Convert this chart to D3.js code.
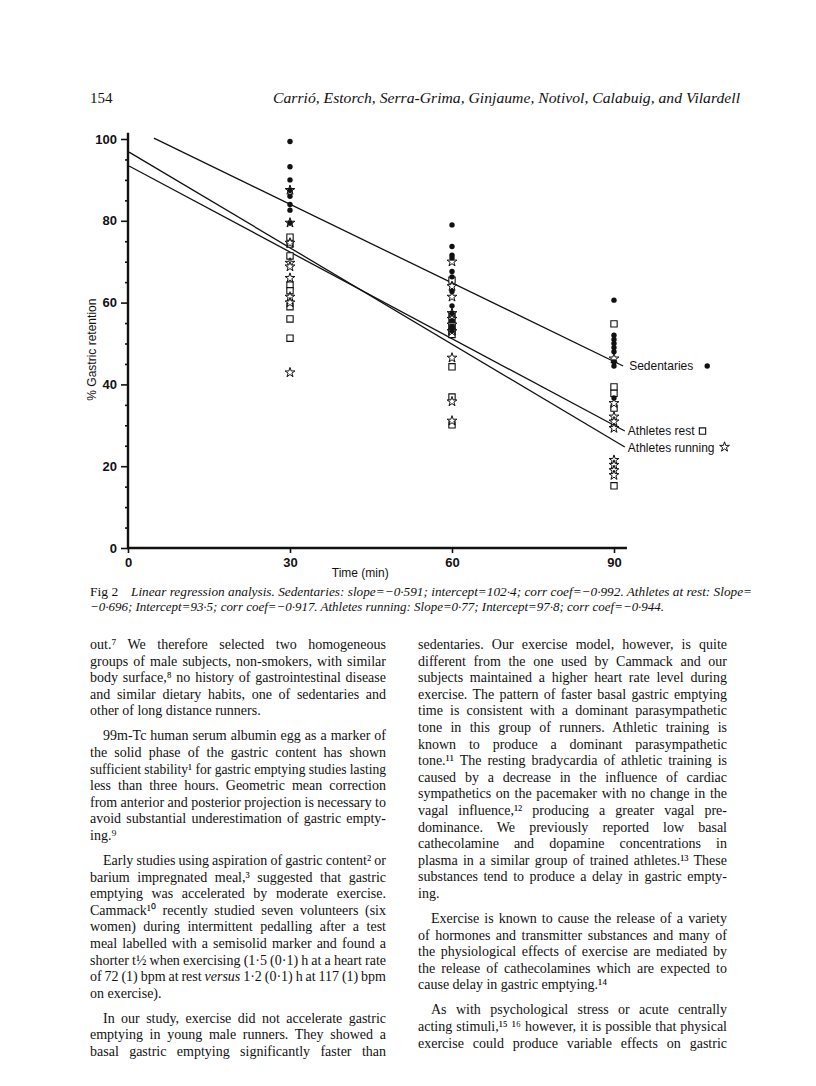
<!DOCTYPE html>
<html>
<head>
<meta charset="utf-8">
<script src="https://cdn.jsdelivr.net/npm/d3@7"></script>
<style>
  body { margin: 0; background: #fff; }
  text { fill: #111; }
</style>
</head>
<body>
<div id="page"></div>
<script>
//page size
var pageWidth = 816;
var pageHeight = 1086;

//time points and axis ticks
var xTicks = [0, 30, 60, 90];
var yTicks = [0, 20, 40, 60, 80, 100];
var yMinorTicks = [5, 10, 15, 25, 30, 35, 45, 50, 55, 65, 70, 75, 85, 90, 95];

//% gastric retention, per group and time
var sedentaries30 = [99.4, 93.2, 90, 87.5, 86, 84, 82.6, 79.5];
var sedentaries60 = [79, 73.7, 71.6, 70.9, 67.6, 66.3, 62.7, 59.2, 57.4, 55.6, 54.2, 53.2];
var sedentaries90 = [60.6, 52, 51, 50, 49, 48, 45.5, 44.5, 36.7];
var rest30 = [76, 74.3, 71.4, 64.3, 62.9, 59, 56, 51.3];
var rest60 = [65.5, 56.8, 55, 54, 53, 52.2, 44.3, 36.9, 30.1];
var rest90 = [54.8, 39.4, 37.8, 34.2, 15.2];
var running30 = [87.5, 79.5, 74.6, 69.7, 68.8, 66, 61.4, 60, 42.9];
var running60 = [70, 64, 61.4, 57.4, 56, 54.6, 53, 46.5, 35.8, 31.1];
var running90 = [46.3, 35.4, 32.1, 30.9, 29.3, 21.5, 20.3, 19, 17.8];

//regression lines as drawn: [time, %] at both ends
var sedentariesLine = [[4.8, 100.2], [91.7, 44.5]];
var restLine = [[0.2, 93.4], [92, 28.6]];
var runningLine = [[0.2, 96.8], [92, 24.7]];

var lineLabels = ["Sedentaries", "Athletes rest", "Athletes running"];

//text of the page
var headerPage = "154";
var headerAuthors = "Carrió, Estorch, Serra-Grima, Ginjaume, Notivol, Calabuig, and Vilardell";
var captionLines = [
  "Linear regression analysis. Sedentaries: slope=\u22120·591; intercept=102·4; corr coef=\u22120·992. Athletes at rest: Slope=",
  "\u22120·696; Intercept=93·5; corr coef=\u22120·917. Athletes running: Slope=0·77; Intercept=97·8; corr coef=\u22120·944."
];
var leftColumn = [
  ["out.⁷ We therefore selected two homogeneous",
   "groups of male subjects, non-smokers, with similar",
   "body surface,⁸ no history of gastrointestinal disease",
   "and similar dietary habits, one of sedentaries and",
   "other of long distance runners."],
  ["99m-Tc human serum albumin egg as a marker of",
   "the solid phase of the gastric content has shown",
   "sufficient stability¹ for gastric emptying studies lasting",
   "less than three hours. Geometric mean correction",
   "from anterior and posterior projection is necessary to",
   "avoid substantial underestimation of gastric empty-",
   "ing.⁹"],
  ["Early studies using aspiration of gastric content² or",
   "barium impregnated meal,³ suggested that gastric",
   "emptying was accelerated by moderate exercise.",
   "Cammack¹⁰ recently studied seven volunteers (six",
   "women) during intermittent pedalling after a test",
   "meal labelled with a semisolid marker and found a",
   "shorter t½ when exercising (1·5 (0·1) h at a heart rate",
   "of 72 (1) bpm at rest _versus_ 1·2 (0·1) h at 117 (1) bpm",
   "on exercise)."],
  ["In our study, exercise did not accelerate gastric",
   "emptying in young male runners. They showed a",
   "basal gastric emptying significantly faster than"]
];
var rightColumn = [
  ["sedentaries. Our exercise model, however, is quite",
   "different from the one used by Cammack and our",
   "subjects maintained a higher heart rate level during",
   "exercise. The pattern of faster basal gastric emptying",
   "time is consistent with a dominant parasympathetic",
   "tone in this group of runners. Athletic training is",
   "known to produce a dominant parasympathetic",
   "tone.¹¹ The resting bradycardia of athletic training is",
   "caused by a decrease in the influence of cardiac",
   "sympathetics on the pacemaker with no change in the",
   "vagal influence,¹² producing a greater vagal pre-",
   "dominance. We previously reported low basal",
   "cathecolamine and dopamine concentrations in",
   "plasma in a similar group of trained athletes.¹³ These",
   "substances tend to produce a delay in gastric empty-",
   "ing."],
  ["Exercise is known to cause the release of a variety",
   "of hormones and transmitter substances and many of",
   "the physiological effects of exercise are mediated by",
   "the release of cathecolamines which are expected to",
   "cause delay in gastric emptying.¹⁴"],
  ["As with psychological stress or acute centrally",
   "acting stimuli,¹⁵ ¹⁶ however, it is possible that physical",
   "exercise could produce variable effects on gastric"]
];

var svg = d3.select("#page")
  .append("svg")
  .attr("width", pageWidth)
  .attr("height", pageHeight);

svg.append("rect").attr("width", pageWidth).attr("height", pageHeight).attr("fill", "#fff");

//scales (page coordinates)
var xScale = d3.scaleLinear().domain([0, 90]).range([128, 614]);
var yScale = d3.scaleLinear().domain([0, 100]).range([548, 139]);

var chartGroup = svg.append("g");
var sansFont = "'Liberation Sans', Arial, sans-serif";
var serifFont = "'Liberation Serif', 'Times New Roman', serif";

//axes
var leftAxis = d3.axisLeft(yScale).tickValues(yTicks).tickSize(7).tickPadding(4).tickFormat(d3.format("d"));
var leftMinor = d3.axisLeft(yScale).tickValues(yMinorTicks).tickSize(3).tickFormat("");
var bottomAxis = d3.axisBottom(xScale).tickValues(xTicks).tickSize(5).tickPadding(5).tickFormat(d3.format("d"));

[leftAxis, leftMinor].forEach(function(ax) {
  var g = chartGroup.append("g")
    .attr("transform", `translate(${xScale(0)}, 0)`)
    .call(ax);
  g.select(".domain").remove();
  g.selectAll("line").attr("stroke", "#111").attr("stroke-width", 1.6);
  g.selectAll("text").attr("font-family", sansFont).attr("font-size", 13).attr("font-weight", "bold");
});

var xg = chartGroup.append("g")
  .attr("transform", `translate(0, ${yScale(0)})`)
  .call(bottomAxis);
xg.select(".domain").remove();
xg.selectAll("line").attr("stroke", "#111").attr("stroke-width", 1.6);
xg.selectAll("text").attr("font-family", sansFont).attr("font-size", 13).attr("font-weight", "bold");

chartGroup.append("line")
  .attr("x1", xScale(0)).attr("x2", xScale(0))
  .attr("y1", yScale(0) + 1).attr("y2", yScale(101.5))
  .attr("stroke", "#111").attr("stroke-width", 2.4);
chartGroup.append("line")
  .attr("x1", xScale(0) - 1).attr("x2", xScale(92.4))
  .attr("y1", yScale(0)).attr("y2", yScale(0))
  .attr("stroke", "#111").attr("stroke-width", 2.4);

//axis titles
chartGroup.append("text")
  .attr("transform", `translate(96, ${yScale(48.5)}) rotate(-90)`)
  .attr("text-anchor", "middle")
  .attr("font-family", sansFont)
  .attr("font-size", 12)
  .text("% Gastric retention");

chartGroup.append("text")
  .attr("x", xScale(43))
  .attr("y", yScale(0) + 29)
  .attr("text-anchor", "middle")
  .attr("font-family", sansFont)
  .attr("font-size", 12)
  .text("Time (min)");

//regression lines
var lines = [sedentariesLine, restLine, runningLine];
var lineGen = d3.line().x(d => xScale(d[0])).y(d => yScale(d[1]));
chartGroup.selectAll(".regline")
  .data(lines)
  .enter()
  .append("path")
  .attr("class", "regline")
  .attr("d", lineGen)
  .attr("fill", "none")
  .attr("stroke", "#111")
  .attr("stroke-width", 1.3);

//points
function toPoints(values, t) {
  return values.map(v => ({ t: t, v: v }));
}
var restPoints = toPoints(rest30, 30).concat(toPoints(rest60, 60), toPoints(rest90, 90));
var runningPoints = toPoints(running30, 30).concat(toPoints(running60, 60), toPoints(running90, 90));
var sedentaryPoints = toPoints(sedentaries30, 30).concat(toPoints(sedentaries60, 60), toPoints(sedentaries90, 90));

var squareSym = d3.symbol().type(d3.symbolSquare).size(40);
var starSym = d3.symbol().type(d3.symbolStar).size(30);

chartGroup.selectAll(".rest")
  .data(restPoints)
  .enter()
  .append("path")
  .attr("class", "rest")
  .attr("transform", d => `translate(${xScale(d.t)}, ${yScale(d.v)})`)
  .attr("d", squareSym)
  .attr("fill", "#fff")
  .attr("stroke", "#111")
  .attr("stroke-width", 1.1);

chartGroup.selectAll(".running")
  .data(runningPoints)
  .enter()
  .append("path")
  .attr("class", "running")
  .attr("transform", d => `translate(${xScale(d.t)}, ${yScale(d.v)})`)
  .attr("d", starSym)
  .attr("fill", "#fff")
  .attr("stroke", "#111")
  .attr("stroke-width", 1);

chartGroup.selectAll(".sedentary")
  .data(sedentaryPoints)
  .enter()
  .append("circle")
  .attr("class", "sedentary")
  .attr("cx", d => xScale(d.t))
  .attr("cy", d => yScale(d.v))
  .attr("r", 2.7)
  .attr("fill", "#111");

//line labels with their symbols
var labelOffsets = [[6, 4], [3, 4], [3, 5]];
var symbolGaps = [14, 8, 10];
lines.forEach(function(l, i) {
  var end = l[1];
  var lx = xScale(end[0]) + labelOffsets[i][0];
  var ly = yScale(end[1]) + labelOffsets[i][1];
  var t = chartGroup.append("text")
    .attr("x", lx)
    .attr("y", ly)
    .attr("font-family", sansFont)
    .attr("font-size", 12)
    .text(lineLabels[i]);
  var sx = lx + t.node().getComputedTextLength() + symbolGaps[i];
  var sy = ly - 4;
  if (i === 0) {
    chartGroup.append("circle").attr("cx", sx).attr("cy", sy).attr("r", 2.7).attr("fill", "#111");
  } else if (i === 1) {
    chartGroup.append("path").attr("transform", `translate(${sx}, ${sy})`).attr("d", squareSym)
      .attr("fill", "#fff").attr("stroke", "#111").attr("stroke-width", 1.1);
  } else {
    chartGroup.append("path").attr("transform", `translate(${sx}, ${sy - 1})`).attr("d", starSym)
      .attr("fill", "#fff").attr("stroke", "#111").attr("stroke-width", 1);
  }
});

//running header
svg.append("text")
  .attr("x", 90).attr("y", 103)
  .attr("font-family", serifFont).attr("font-size", 15)
  .text(headerPage);
svg.append("text")
  .attr("x", 273).attr("y", 103)
  .attr("font-family", serifFont).attr("font-size", 15.5).attr("font-style", "italic")
  .attr("textLength", 467).attr("lengthAdjust", "spacingAndGlyphs")
  .text(headerAuthors);

//caption
svg.append("text")
  .attr("x", 90).attr("y", 596)
  .attr("font-family", serifFont).attr("font-size", 13.5)
  .text("Fig 2");
svg.append("text")
  .attr("x", 131).attr("y", 596)
  .attr("font-family", serifFont).attr("font-size", 13.5).attr("font-style", "italic")
  .attr("textLength", 621).attr("lengthAdjust", "spacingAndGlyphs")
  .text(captionLines[0]);
svg.append("text")
  .attr("x", 90).attr("y", 611)
  .attr("font-family", serifFont).attr("font-size", 13.5).attr("font-style", "italic")
  .attr("textLength", 574).attr("lengthAdjust", "spacingAndGlyphs")
  .text(captionLines[1]);

//body text, justified by word spacing (or squeezed when too long)
function drawTextLine(g, x, y, width, str, justify) {
  var t = g.append("text").attr("x", x).attr("y", y);
  var parts = str.split(/(_[^_]+_)/).filter(s => s.length);
  parts.forEach(function(p) {
    var ts = t.append("tspan");
    if (p[0] === "_") ts.text(p.slice(1, -1)).attr("font-style", "italic");
    else ts.text(p);
  });
  var natural = t.node().getComputedTextLength();
  if (justify || natural > width) {
    var spaces = (str.match(/ /g) || []).length;
    var ws = spaces > 0 ? (width - natural) / spaces : 0;
    if (ws >= -1) {
      t.attr("word-spacing", ws);
    } else {
      t.attr("textLength", width).attr("lengthAdjust", "spacingAndGlyphs");
    }
  }
}

function drawColumn(paragraphs, x, width, startY, continued) {
  var g = svg.append("g")
    .attr("font-family", serifFont)
    .attr("font-size", 14);
  var y = startY;
  paragraphs.forEach(function(lines, pi) {
    var indent = (pi === 0 && continued) ? 0 : 13;
    lines.forEach(function(line, li) {
      var isLast = li === lines.length - 1;
      var justify = !isLast || pi === paragraphs.length - 1;
      var dx = li === 0 ? indent : 0;
      drawTextLine(g, x + dx, y, width - dx, line, justify);
      y += 16.6;
    });
    y += 8.4;
  });
}

drawColumn(leftColumn, 90, 296, 649, true);
drawColumn(rightColumn, 418, 309, 649, true);
</script>
</body>
</html>
